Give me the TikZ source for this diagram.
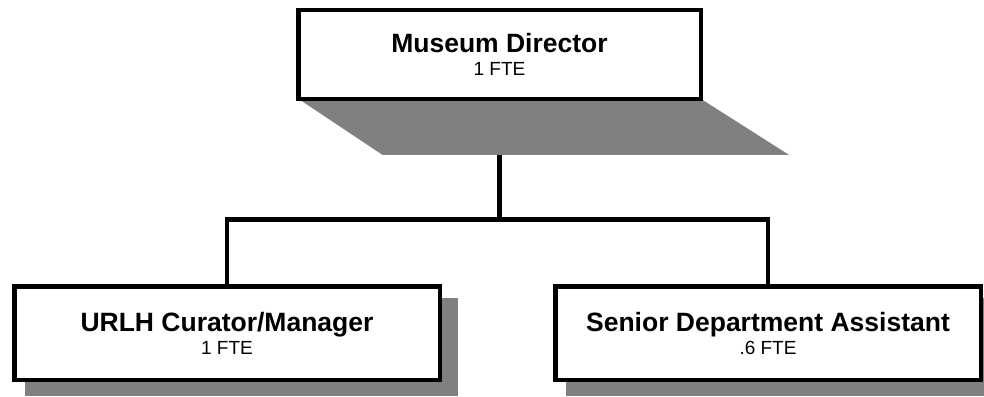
\documentclass[tikz,border=0pt]{standalone}
\usepackage{fontspec}
\setmainfont{Liberation Sans}
\usetikzlibrary{calc}
\usetikzlibrary{backgrounds}

\tikzset{
  post/.style={draw, line width=4.5pt, fill=white, inner sep=0pt, outer sep=0pt,
    align=center, font=\fontsize{19}{23}\selectfont},
  link/.style={line width=4.5pt},
  shade/.style={fill=black!50}
}
\newcommand{\postname}[1]{{\fontsize{26.5}{30}\selectfont\bfseries #1}}

\begin{document}
\begin{tikzpicture}[x=1pt,y=-1pt]
      \useasboundingbox (0,0) rectangle (984,396);

      \node[post, minimum width=402.5pt, minimum height=88.5pt] (dir) at (499.5,54.5)
        {\postname{Museum Director}\\1 FTE};
      \node[post, minimum width=425.5pt, minimum height=93.5pt] (cur) at (227,333)
        {\postname{URLH Curator/Manager}\\1 FTE};
      \node[post, minimum width=425.5pt, minimum height=93.5pt] (ast) at (768,333)
        {\postname{Senior Department Assistant}\\.6 FTE};

      \coordinate (split) at (499.5,219.5);

      \begin{scope}[on background layer]
        \draw[link] (dir.south) -- (split);
        \draw[link] (cur.north) |- (split) -| (ast.north);
        % shadows
        \fill[shade] (dir.south west) -- (dir.south east) -- ++(88,56)
          -- ($(dir.south west)+(84,56)$) -- cycle;
        \fill[shade] ($(cur.north west)+(11,12)$) rectangle ($(cur.south east)+(18,16)$);
        \fill[shade] ($(ast.north west)+(11,12)$) rectangle ($(ast.south east)+(18,16)$);
      \end{scope}
    \end{tikzpicture}
\end{document}
